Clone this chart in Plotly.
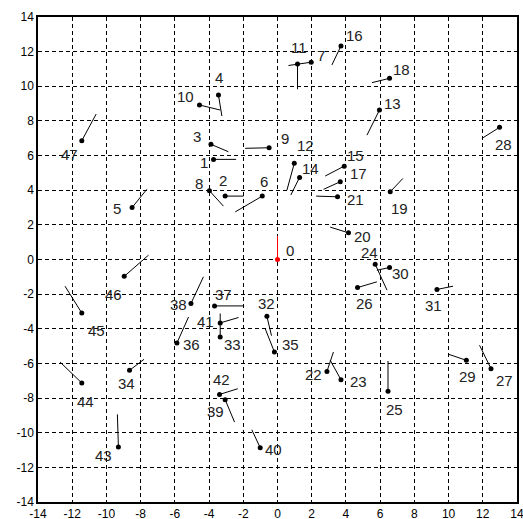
import plotly.graph_objects as go

# ---- data ----
point_ids = list(range(48))
px_ = [0, -3.74, -3.06, -3.89, -3.45, -8.5, -0.89, 1.97, -3.98, -0.49,
       -4.56, 1.17, 0.98, 5.96, 1.29, 3.9, 3.71, 3.67, 6.55, 6.59,
       4.15, 3.51, 2.89, 3.71, 5.71, 6.46, 4.68, 12.48, 12.98, 11.04,
       6.55, 9.32, -0.62, -3.35, -8.65, -0.18, -5.88, -3.68, -5.06, -3.06,
       -1.01, -3.35, -3.39, -9.3, -11.44, -11.44, -8.96, -11.44]
py_ = [0, 5.78, 3.66, 6.65, 9.49, 3.0, 3.66, 11.39, 3.97, 6.45,
       8.92, 11.29, 5.55, 8.63, 4.74, 5.39, 12.33, 4.49, 10.46, 3.91,
       1.54, 3.62, -6.46, -6.94, -0.27, -7.61, -1.62, -6.3, 7.63, -5.82,
       -0.46, -1.73, -3.28, -4.47, -6.4, -5.34, -4.82, -2.68, -2.54, -8.09,
       -10.87, -3.66, -7.79, -10.83, -7.13, -3.09, -0.97, 6.86]
end_x = [0, -2.42, -1.99, -2.87, -3.25, -7.64, -2.47, 0.64, -3.16, -1.89,
         -3.35, 1.17, 0.55, 5.23, 0.78, 2.79, 3.18, 2.69, 5.52, 7.33,
         3.08, 2.26, 3.27, 3.08, 6.4, 6.46, 5.81, 11.81, 11.95, 10.0,
         5.81, 10.26, -0.35, -3.35, -7.8, -0.72, -5.2, -1.95, -4.33, -2.51,
         -1.5, -2.28, -2.32, -9.36, -12.71, -12.42, -7.54, -10.6]
end_y = [1.35, 5.78, 3.66, 6.22, 8.28, 4.05, 2.75, 11.2, 3.08, 6.42,
         8.63, 9.83, 4.0, 7.18, 3.72, 4.82, 11.23, 4.05, 10.21, 4.68,
         1.87, 3.66, -5.34, -5.82, -1.77, -5.86, -1.29, -4.95, 6.99, -5.47,
         -0.62, -1.54, -4.4, -3.12, -5.76, -3.99, -3.32, -2.68, -1.0, -9.39,
         -9.83, -3.35, -7.46, -8.94, -5.92, -1.54, 0.25, 8.4]
tick_vals = list(range(-14, 15, 2))
tick_text = [str(v) for v in tick_vals]

# ---- style: label pixel offsets (dx right, dy down) ----
label_off = [(12, -9), (-10, 3), (-2, -16), (-14, -8), (1, -18), (-15, 1), (2, -15), (10, -7),
             (-10, -7), (16, -9), (-14, -8), (1, -16), (11, -18), (13, -7), (11, -9), (11, -11),
             (14, -10), (18, -8), (12, -9), (9, 17), (14, 4), (18, 3), (-13, 3), (18, 2),
             (-6, -12), (6, 18), (7, 16), (13, 12), (4, 17), (1, 16), (11, 6), (-3, 16),
             (0, -13), (12, 8), (-3, 13), (16, -8), (15, 2), (9, -11), (-12, 1), (-10, 12),
             (13, 2), (-15, -1), (2, -15), (-15, 8), (4, 18), (15, 17), (-11, 18), (-12, 14)]

fig = go.Figure()

def seg_lists(idxs):
    sx, sy = [], []
    for i in idxs:
        sx += [px_[i], end_x[i], None]
        sy += [py_[i], end_y[i], None]
    return sx, sy

black_idx = [i for i in point_ids if i != 0]
sx, sy = seg_lists(black_idx)
fig.add_trace(go.Scatter(x=sx, y=sy, mode="lines", line=dict(color="black", width=1),
                         hoverinfo="skip", showlegend=False))
fig.add_trace(go.Scatter(x=[px_[i] for i in black_idx], y=[py_[i] for i in black_idx],
                         mode="markers", marker=dict(color="black", size=5),
                         showlegend=False))
rx, ry = seg_lists([0])
fig.add_trace(go.Scatter(x=rx, y=ry, mode="lines", line=dict(color="red", width=1),
                         hoverinfo="skip", showlegend=False))
fig.add_trace(go.Scatter(x=[px_[0]], y=[py_[0]], mode="markers",
                         marker=dict(color="red", size=5), showlegend=False))

for i in point_ids:
    dx, dy = label_off[i]
    fig.add_annotation(x=px_[i], y=py_[i], text=str(point_ids[i]), showarrow=False,
                       xshift=dx, yshift=-dy, xanchor="center", yanchor="middle",
                       font=dict(family="Liberation Sans, Arial", size=15, color="#222"))

axis_common = dict(range=[-14, 14], tickmode="array", tickvals=tick_vals, ticktext=tick_text,
                   showgrid=True, gridcolor="black", gridwidth=1, griddash="4px,3px",
                   zeroline=False, showline=True, linecolor="black", linewidth=1.5,
                   mirror=True, ticks="", automargin=False,
                   tickfont=dict(family="Liberation Sans, Arial", size=12, color="black"))

fig.update_layout(width=523, height=519, margin=dict(l=38, r=6, t=17, b=17),
                  plot_bgcolor="white", paper_bgcolor="white", showlegend=False,
                  xaxis=axis_common, yaxis=axis_common)
fig.update_xaxes(ticklabelstandoff=0, ticklabeloverflow="allow")

fig.write_html("out.html", config={"displayModeBar": False},
               post_script="document.body.style.margin='0';document.body.style.overflow='hidden';")
